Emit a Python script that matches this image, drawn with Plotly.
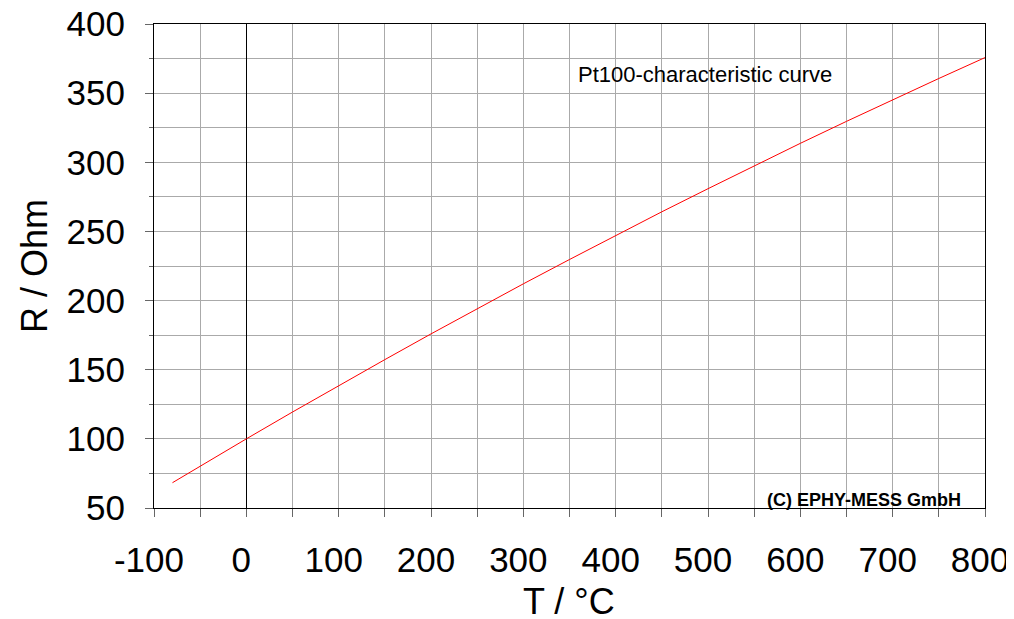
import plotly.graph_objects as go

temps = [-80, -50, 0, 50, 100, 150, 200, 250, 300, 350, 400, 450, 500, 550, 600, 650, 700, 750, 800]
resist = [68.3, 80.3, 100.0, 119.4, 138.5, 157.3, 175.9, 194.1, 212.1, 229.7, 247.1, 264.2, 280.9, 297.4, 313.7, 329.6, 345.3, 360.6, 375.7]

x_ticks = [-100, 0, 100, 200, 300, 400, 500, 600, 700, 800]
y_ticks = [50, 100, 150, 200, 250, 300, 350, 400]

font = "Liberation Sans, Arial, sans-serif"

fig = go.Figure()
fig.add_trace(go.Scatter(x=temps, y=resist, mode="lines",
                         line=dict(color="#ff0000", width=1), showlegend=False))

fig.update_layout(
    width=1014, height=619,
    margin=dict(l=146, r=37, t=16, b=119),
    paper_bgcolor="white", plot_bgcolor="white",
    font=dict(family=font, color="black"),
)
fig.update_xaxes(
    range=[-100, 800], tickvals=x_ticks, ticktext=[str(v) for v in x_ticks],
    automargin=False, ticklabeloverflow="allow",
    ticks="outside", ticklen=8, tickcolor="#666666",
    ticklabelshift=-5, ticklabelstandoff=13,
    showgrid=True, gridcolor="#aaaaaa", gridwidth=1,
    minor=dict(dtick=50, tick0=0, showgrid=True, gridcolor="#aaaaaa", ticks="outside", ticklen=8, tickcolor="#666666"),
    showline=True, linecolor="black", linewidth=1, mirror=True,
    zeroline=True, zerolinecolor="black", zerolinewidth=1,
    tickfont=dict(size=35, family=font),
)
fig.update_yaxes(
    range=[50, 400], tickvals=y_ticks, ticktext=[str(v) for v in y_ticks],
    automargin=False, ticklabeloverflow="allow",
    ticks="outside", ticklen=8, tickcolor="#666666",
    ticklabelstandoff=13,
    showgrid=True, gridcolor="#aaaaaa", gridwidth=1,
    minor=dict(dtick=25, tick0=0, showgrid=True, gridcolor="#aaaaaa", ticks="outside", ticklen=4, tickcolor="#666666"),
    showline=True, linecolor="black", linewidth=1, mirror=True,
    zeroline=False,
    tickfont=dict(size=35, family=font),
)
# axis titles
fig.add_annotation(x=0.499, y=-0.194, xref="paper", yref="paper", xanchor="center", yanchor="middle",
                   text="T / °C", showarrow=False, font=dict(size=36, family=font, color="black"))
fig.add_annotation(x=-0.1444, y=0.5, xref="paper", yref="paper", xanchor="center", yanchor="middle",
                   text="R / Ohm", textangle=-90, showarrow=False, font=dict(size=36, family=font, color="black"))
fig.add_annotation(x=0.508, y=0.896, xref="paper", yref="paper", xanchor="left", yanchor="middle",
                   text="Pt100-characteristic curve", showarrow=False,
                   font=dict(size=22, family=font, color="black"))
fig.add_annotation(x=0.9735, y=-0.008, xref="paper", yref="paper", xanchor="right", yanchor="bottom",
                   text="<b>(C) EPHY-MESS GmbH</b>", showarrow=False,
                   font=dict(size=18, family=font, color="black"))

fig.write_html("out.html")
